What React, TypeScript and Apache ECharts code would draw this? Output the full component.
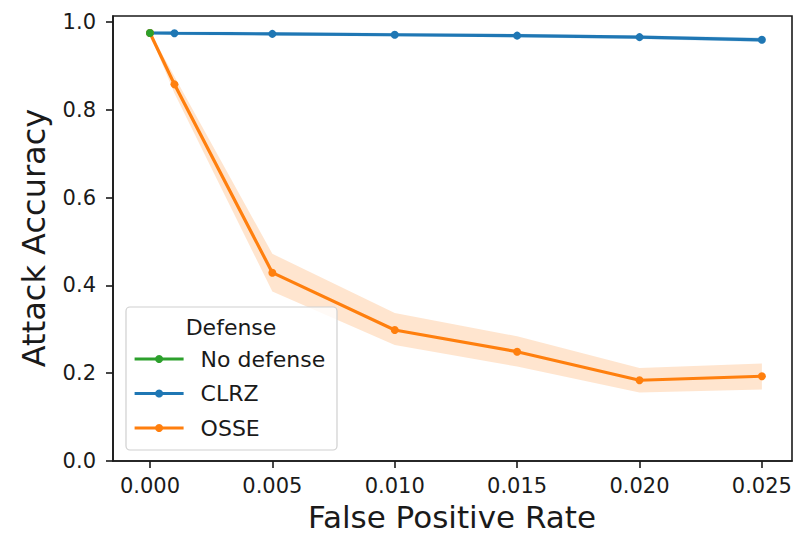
import React, { useEffect, useRef } from "react";
import * as echarts from "echarts";

const fpr = [0, 0.001, 0.005, 0.01, 0.015, 0.02, 0.025];
const xTicks = [0, 0.005, 0.01, 0.015, 0.02, 0.025];
const yTicks = [0, 0.2, 0.4, 0.6, 0.8, 1.0];

const noDefenseX = [0];
const noDefenseY = [0.975];

const clrzMean = [0.975, 0.9745, 0.973, 0.971, 0.969, 0.9655, 0.9595];
const clrzLow = [0.972, 0.9705, 0.969, 0.967, 0.965, 0.9615, 0.9545];
const clrzHigh = [0.978, 0.9785, 0.977, 0.975, 0.973, 0.9695, 0.9645];

const osseMean = [0.975, 0.858, 0.429, 0.2985, 0.249, 0.184, 0.193];
const osseLow = [0.972, 0.838, 0.386, 0.264, 0.215, 0.156, 0.163];
const osseHigh = [0.978, 0.876, 0.472, 0.337, 0.284, 0.212, 0.222];

const BLUE = "#1f77b4";
const ORANGE = "#ff7f0e";
const GREEN = "#2ca02c";
const FONT = "DejaVu Sans";
const INK = "#1a1a1a";

function pairs(xs: number[], ys: number[]) {
  return xs.map((x, i) => [x, ys[i]]);
}

function bandSeries(name: string, low: number[], high: number[], color: string) {
  return {
    name: name + "-band",
    type: "custom",
    silent: true,
    z: 1,
    data: fpr.map((x, i) => [x, low[i], high[i]]),
    encode: { x: 0, y: [1, 2] },
    renderItem: (params: any, api: any) => {
      if (params.dataIndex !== 0) return null;
      const upper = fpr.map((x, i) => api.coord([x, high[i]]));
      const lower = fpr.map((x, i) => api.coord([x, low[i]])).reverse();
      return {
        type: "polygon",
        shape: { points: upper.concat(lower) },
        style: { fill: color, opacity: 0.2 },
      };
    },
  };
}

export default function App() {
  const ref = useRef<HTMLDivElement>(null);
  useEffect(() => {
    if (!ref.current) return;
    const chart = echarts.init(ref.current, undefined, { renderer: "svg" });
    const lineSeries = (name: string, xs: number[], ys: number[], color: string, z: number) => ({
      name,
      type: "line",
      data: pairs(xs, ys),
      symbol: "circle",
      symbolSize: 8,
      showSymbol: true,
      lineStyle: { color, width: 3.2 },
      itemStyle: { color },
      z,
    });
    chart.setOption({
      animation: false,
      grid: { left: 113, top: 16, right: 3, bottom: 74, show: true, borderColor: INK, borderWidth: 1.6, backgroundColor: "transparent" },
      xAxis: {
        type: "value",
        min: -0.00151,
        max: 0.02623,
        splitLine: { show: false },
        axisLine: { show: true, onZero: false, lineStyle: { color: INK, width: 1.6 } },
        axisTick: { show: true, length: 7, lineStyle: { color: INK, width: 1.6 }, customValues: xTicks },
        axisLabel: {
          customValues: xTicks,
          formatter: (v: number) => v.toFixed(3),
          color: INK,
          fontFamily: FONT,
          fontSize: 21,
          margin: 14,
        },
      },
      yAxis: {
        type: "value",
        min: 0,
        max: 1.0137,
        splitLine: { show: false },
        axisLine: { show: true, onZero: false, lineStyle: { color: INK, width: 1.6 } },
        axisTick: { show: true, length: 7, lineStyle: { color: INK, width: 1.6 }, customValues: yTicks },
        axisLabel: {
          customValues: yTicks,
          formatter: (v: number) => v.toFixed(1),
          color: INK,
          fontFamily: FONT,
          fontSize: 21,
          margin: 17,
        },
      },
      legend: {
        data: ["No defense", "CLRZ", "OSSE"],
        orient: "vertical",
        left: 133,
        top: 347,
        padding: 0,
        itemWidth: 49,
        itemHeight: 10,
        itemGap: 10.5,
        z: 110,
        lineStyle: { width: 3.2 },
        textStyle: { fontFamily: FONT, fontSize: 22, color: INK, lineHeight: 24, padding: [0, 0, 0, 12] },
      },
      graphic: [
        {
          type: "rect",
          z: 100,
          shape: { x: 126, y: 307, width: 211, height: 143, r: 4 },
          style: { fill: "rgba(255,255,255,0.8)", stroke: "#d0d0d0", lineWidth: 1.2 },
        },
        {
          type: "text",
          z: 101,
          x: 231,
          y: 327,
          style: { text: "Defense", fontFamily: FONT, fontSize: 22, fill: INK, align: "center", verticalAlign: "middle" },
        },
        {
          type: "text",
          x: 452,
          y: 517,
          style: { text: "False Positive Rate", fontFamily: FONT, fontSize: 31, fill: INK, align: "center", verticalAlign: "middle" },
        },
        {
          type: "text",
          x: 34,
          y: 238,
          rotation: Math.PI / 2,
          style: { text: "Attack Accuracy", fontFamily: FONT, fontSize: 32, fill: INK, align: "center", verticalAlign: "middle" },
        },
      ],
      series: [
        bandSeries("osse", osseLow, osseHigh, ORANGE),
        bandSeries("clrz", clrzLow, clrzHigh, BLUE),
        lineSeries("CLRZ", fpr, clrzMean, BLUE, 3),
        lineSeries("OSSE", fpr, osseMean, ORANGE, 4),
        lineSeries("No defense", noDefenseX, noDefenseY, GREEN, 5),
      ],
    });
    return () => chart.dispose();
  }, []);
  return <div ref={ref} style={{ width: 795, height: 535, position: "absolute", left: 0, top: 0 }} />;
}
